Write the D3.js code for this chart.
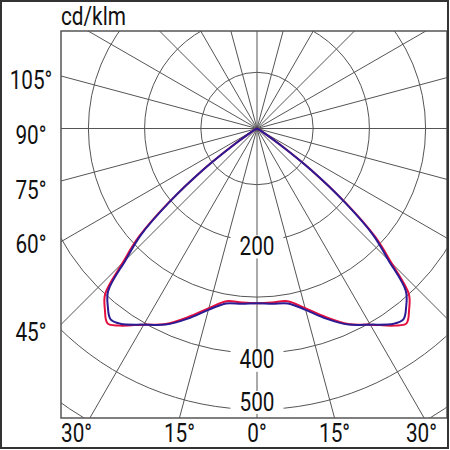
<!DOCTYPE html>
<html><head><meta charset="utf-8">
<script src="https://cdn.jsdelivr.net/npm/d3@7"></script>
<style>html,body{margin:0;padding:0;background:#fff;}svg{display:block;font-family:Roboto,"Liberation Sans",sans-serif;}</style>
</head><body>
<script>
// ---- data ----
const unitLabel = "cd/klm";
const gammaDeg = [0,5,10,15,20,25,30,35,37.5,40,42.5,45,47.5,50,52.5,55,57.5,60,65];
const seriesRed  = [311,311,312,331,357,384,403,428,437,421,400,338,285,206,124,49,16,5,0];
const seriesBlue = [311,313,316,334,360,385,403,424,428,413,392,330,280,203,122,48,16,5,0];
const ringValues = [100,200,300,400,500,600,700,800];
const ringLabels = [200,400,500];
const leftAngleLabels = ["105°","90°","75°","60°","45°"];
const leftAngles = [105,90,75,60,45];
const bottomAngleLabels = ["30°","15°","0°","15°","30°"];
const bottomAngles = [-30,-15,0,15,30];

// ---- layout ----
const W = 450, H = 450;
const box = {x0:61, y0:31, x1:447, y1:418};
const cx = 257, cy = 128.5;
const r = d3.scaleLinear().domain([0,500]).range([0,281]);
const gridColor = "#555";
const fs = 25, sx = 0.83;

const svg = d3.select("body").append("svg").attr("width",W).attr("height",H);
svg.append("defs").append("clipPath").attr("id","clip")
  .append("rect").attr("x",box.x0).attr("y",box.y0).attr("width",box.x1-box.x0).attr("height",box.y1-box.y0);

const g = svg.append("g").attr("clip-path","url(#clip)");
const center = g.append("g").attr("transform",`translate(${cx},${cy})`);

// rings
center.selectAll("circle.ring").data(ringValues).join("circle")
  .attr("class","ring").attr("r",d=>r(d)).attr("fill","none")
  .attr("stroke",gridColor).attr("stroke-width",1);
// spokes
const spokes = d3.range(0,360,15);
center.selectAll("line.spoke").data(spokes).join("line")
  .attr("x1",0).attr("y1",0)
  .attr("x2",d=>700*Math.sin(d*Math.PI/180))
  .attr("y2",d=>700*Math.cos(d*Math.PI/180))
  .attr("stroke",gridColor).attr("stroke-width",1);

// ring labels with white backing
const lblOffset = {200:14, 400:15, 500:1};
ringLabels.forEach(v=>{
  const y = r(v) + lblOffset[v];
  const t = center.append("text").attr("transform",`translate(0,${y}) scale(${sx},1)`)
    .attr("text-anchor","middle").attr("font-size",fs).attr("fill","#111").text(v);
  const bb = t.node().getBBox();
  center.insert("rect","text").attr("x",-bb.width*sx/2-9).attr("y",y-19.5).attr("width",bb.width*sx+18).attr("height",23).attr("fill","#fff");
});

// curves
function pathPoints(vals){
  const pts = [];
  for(let i=gammaDeg.length-1;i>=0;i--) pts.push({a:Math.PI+gammaDeg[i]*Math.PI/180, v:vals[i]});
  for(let i=1;i<gammaDeg.length;i++) pts.push({a:Math.PI-gammaDeg[i]*Math.PI/180, v:vals[i]});
  return pts;
}
const radial = d3.lineRadial().angle(d=>d.a).radius(d=>r(d.v)).curve(d3.curveCatmullRom.alpha(0.5));
center.append("path").attr("d",radial(pathPoints(seriesRed))).attr("fill","none")
  .attr("stroke","#e3103f").attr("stroke-width",2).attr("stroke-linejoin","round");
center.append("path").attr("d",radial(pathPoints(seriesBlue))).attr("fill","none")
  .attr("stroke","#2b1c95").attr("stroke-width",2).attr("stroke-linejoin","round");

// box
svg.append("rect").attr("x",box.x0).attr("y",box.y0).attr("width",box.x1-box.x0).attr("height",box.y1-box.y0)
  .attr("fill","none").attr("stroke","#555").attr("stroke-width",1.5);
// outer border
svg.append("rect").attr("x",1).attr("y",1).attr("width",447).attr("height",447)
  .attr("fill","none").attr("stroke","#333").attr("stroke-width",2);

function label(x,y,txt,anchor){
  svg.append("text").attr("transform",`translate(${x},${y}) scale(${sx},1)`)
    .attr("text-anchor",anchor).attr("font-size",fs).attr("fill","#111").text(txt);
}
label(box.x0, 25, unitLabel, "start");
// left angle labels
const leftNudge = [12.8,15,17.5,11,16];
leftAngles.forEach((a,i)=>{
  const yl = cy - (cx-box.x0)*Math.tan((a-90)*Math.PI/180);
  label(31, yl+leftNudge[i], leftAngleLabels[i], "middle");
});
// bottom angle labels
bottomAngles.forEach((a,i)=>{
  const xl = cx + (box.y1-cy)*Math.tan(a*Math.PI/180);
  let anchor="middle", x=xl;
  if(i===0){anchor="start"; x=box.x0;}
  if(i===bottomAngles.length-1){anchor="end"; x=437;}
  label(x, 442, bottomAngleLabels[i], anchor);
});
</script>
</body></html>
